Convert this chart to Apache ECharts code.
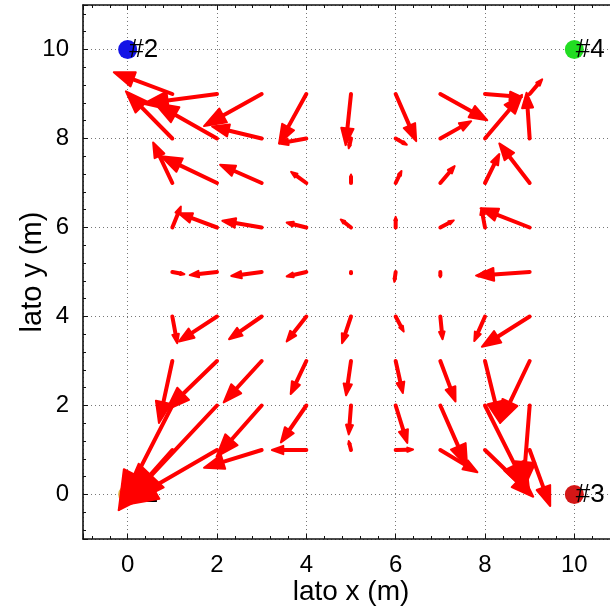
<!DOCTYPE html>
<html><head><meta charset="utf-8">
<script src="https://cdn.jsdelivr.net/npm/echarts@6/dist/echarts.min.js"></script>
<style>html,body{margin:0;padding:0;background:#fff;}#c{width:610px;height:609px;}</style>
</head><body><div id="c"></div>
<script>
// grid of arrow tails
const gridX = [1, 2, 3, 4, 5, 6, 7, 8, 9];
const gridY = [1, 2, 3, 4, 5, 6, 7, 8, 9];
// U[row for y=1..9][col for x=1..9]
const U = [
  [-1.15, -2.15, -1.29, -0.77, -0.05,  0.39,  0.83,  1.08,  0.46], // y=1
  [-1.20, -2.20, -1.01, -0.57, -0.05,  0.26,  0.60,  1.00, -0.15], // y=2
  [-0.30, -1.13, -0.85, -0.35, -0.11,  0.16,  0.34,  0.34, -0.66], // y=3
  [ 0.11, -0.85, -0.73, -0.44, -0.20,  0.18,  0.05, -0.24, -1.07], // y=4
  [ 0.27, -0.61, -0.68, -0.44,  0.00, -0.03,  0.00, -0.15, -1.20], // y=5
  [ 0.19, -0.86, -0.88, -0.44, -0.23,  0.00,  0.30, -0.08, -1.10], // y=6
  [-0.43, -1.25, -0.93, -0.34,  0.00,  0.13,  0.32,  0.32, -0.68], // y=7
  [-1.04, -1.40, -1.11, -0.61, -0.05,  0.25,  0.69,  0.83, -0.07], // y=8
  [-1.31, -1.65, -1.29, -0.61, -0.12,  0.46,  1.05,  0.83,  0.28]  // y=9
];
const V = [
  [-1.30, -1.25, -0.40,  0.00,  0.20,  0.01, -0.50, -1.05, -1.26], // y=1
  [-2.35, -2.35, -1.15, -0.83, -0.65, -0.84, -1.37, -2.00, -1.90], // y=2
  [-1.39, -1.10, -0.93, -0.74, -0.77, -0.72, -0.91, -1.39, -1.39], // y=3
  [-0.60, -0.56, -0.51, -0.56, -0.60, -0.34, -0.51, -0.55, -0.68], // y=4
  [-0.05, -0.07, -0.09, -0.10, -0.04, -0.22, -0.12, -0.10, -0.08], // y=5
  [ 0.47,  0.32,  0.15,  0.11,  0.18,  0.24,  0.16,  0.43,  0.43], // y=6
  [ 0.91,  0.60,  0.41,  0.25,  0.19,  0.27,  0.38,  0.65,  0.89], // y=7
  [ 1.06,  0.80,  0.27, -0.11, -0.22, -0.14,  0.39,  0.98,  1.03], // y=8
  [ 0.49, -0.22, -0.72, -1.11, -1.15, -1.06, -0.59, -0.07,  0.33]  // y=9
];
const anchorNames = ['#1', '#2', '#3', '#4'];
const anchorX = [0, 0, 10, 10];
const anchorY = [0, 10, 0, 10];
const anchorColors = ['#E2B040', '#1414E6', '#D41616', '#22DD22'];
const xName = 'lato x (m)';
const yName = 'lato y (m)';

const arrowData = [];
gridY.forEach((y, i) => gridX.forEach((x, j) => arrowData.push([x, y, U[i][j], V[i][j]])));
const anchorData = anchorX.map((x, i) => [x, anchorY[i]]);

function renderArrow(params, api) {
  const x = api.value(0), y = api.value(1), u = api.value(2), v = api.value(3);
  const p0 = api.coord([x, y]);
  const p1 = api.coord([x + u, y + v]);
  const dx = p1[0] - p0[0], dy = p1[1] - p0[1];
  const L = Math.hypot(dx, dy);
  if (L < 0.5) return {type: 'circle', shape: {cx: p0[0], cy: p0[1], r: 2}, style: {fill: '#f00'}};
  const ux = dx / L, uy = dy / L;
  const hl = 0.33 * L, hw = 0.12 * L;
  const bx = p1[0] - ux * hl, by = p1[1] - uy * hl;
  const nx = -uy, ny = ux;
  return {
    type: 'group',
    children: [
      {type: 'line', shape: {x1: p0[0], y1: p0[1], x2: bx, y2: by},
       style: {stroke: '#ff0000', lineWidth: 4, lineCap: 'round'}},
      {type: 'polygon', shape: {points: [[p1[0], p1[1]], [bx + nx * hw, by + ny * hw], [bx - nx * hw, by - ny * hw]]},
       style: {fill: '#ff0000', stroke: '#ff0000', lineWidth: 2, lineJoin: 'round'}}
    ]
  };
}

const FONT = 'Liberation Sans, Arial, Helvetica, sans-serif';
function axis(extra) {
  return Object.assign({
    type: 'value', min: -1, max: 11,
    axisLine: {show: true, onZero: false, lineStyle: {color: '#111', width: 1.6}},
    axisTick: {show: true, inside: true, length: 5, lineStyle: {color: '#111', width: 1}},
    minorTick: {show: true, splitNumber: 5, length: 3, lineStyle: {color: '#111', width: 1}},
    splitLine: {show: true, lineStyle: {color: '#777', type: [1, 3], width: 1}},
    minorSplitLine: {show: false},
    nameMoveOverlap: false,
    axisLabel: {show: true, showMinLabel: false, showMaxLabel: false, fontSize: 24, color: '#000', fontFamily: FONT, margin: 14}
  }, extra);
}

const chart = echarts.init(document.getElementById('c'), null, {renderer: 'canvas'});
chart.setOption({
  backgroundColor: '#fff',
  animation: false,
  grid: {left: 83, top: 5, width: 536, height: 534, containLabel: false, outerBoundsMode: 'none'},
  xAxis: [
    axis({position: 'bottom', name: xName, nameLocation: 'middle', nameGap: 39,
          nameTextStyle: {fontSize: 28, color: '#000', fontFamily: FONT}}),
    axis({position: 'top', axisLabel: {show: false}, splitLine: {show: false}})
  ],
  yAxis: [
    axis({position: 'left', name: yName, nameLocation: 'middle', nameGap: 36,
          nameTextStyle: {fontSize: 29, color: '#000', fontFamily: FONT}}),
    axis({position: 'right', axisLabel: {show: false}, splitLine: {show: false}})
  ],
  series: [
    {
      type: 'scatter', xAxisIndex: 0, yAxisIndex: 0, z: 2,
      data: anchorData, symbolSize: 19,
      itemStyle: {color: p => anchorColors[p.dataIndex], opacity: 1},
      label: {show: true, position: 'right', distance: -8, formatter: p => anchorNames[p.dataIndex],
              fontSize: 26, color: '#000', fontFamily: FONT}
    },
    {
      type: 'custom', xAxisIndex: 0, yAxisIndex: 0, z: 3,
      renderItem: renderArrow, data: arrowData,
      encode: {x: 0, y: 1}
    }
  ]
});
</script></body></html>
